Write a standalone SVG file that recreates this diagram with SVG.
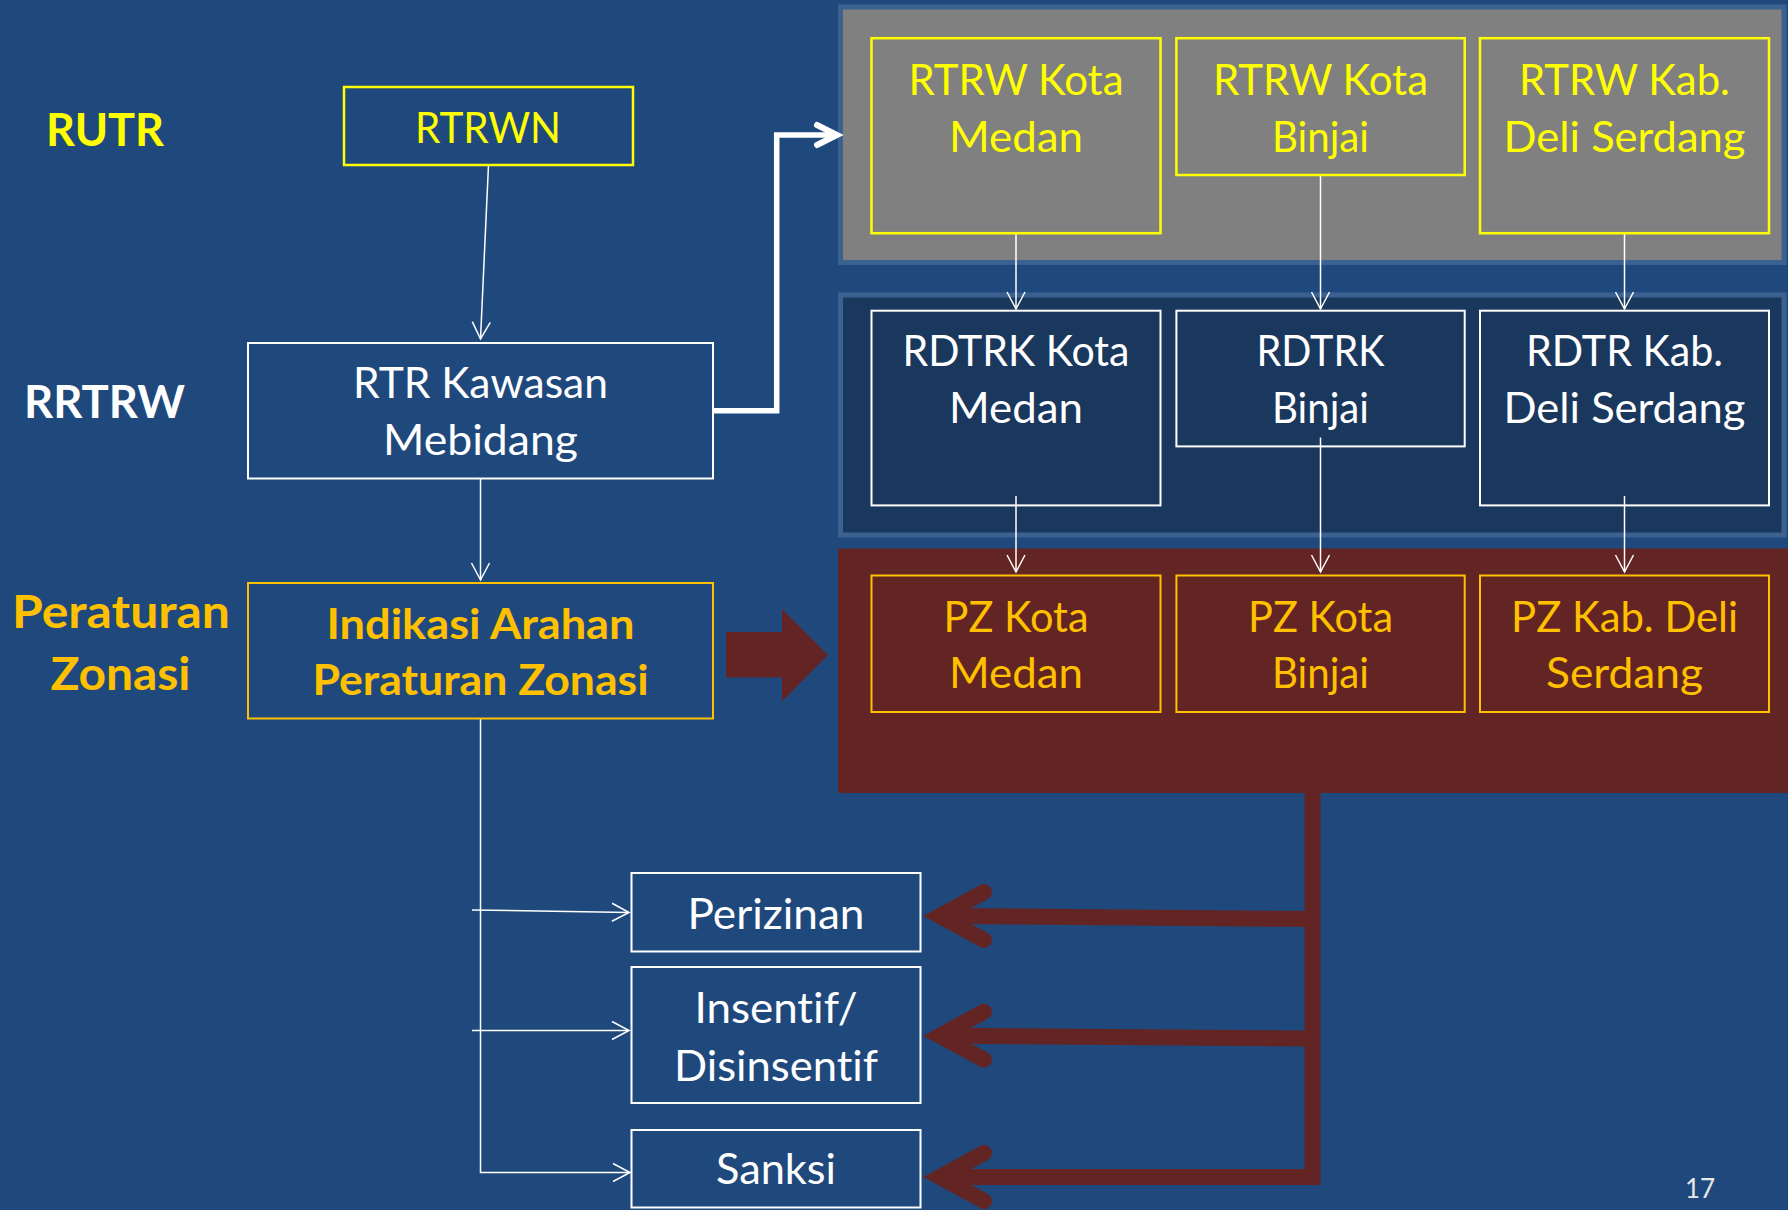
<svg xmlns="http://www.w3.org/2000/svg" width="1788" height="1210" viewBox="0 0 1788 1210">
<defs>
<style>
text{font-family:Lato,"Open Sans","Liberation Sans",sans-serif;text-anchor:middle;font-variant-ligatures:none;font-feature-settings:"liga" 0,"dlig" 0}
.t{font-size:42px}
.b{font-size:46px;font-weight:bold}
.y{fill:#FFFF00}
.o{fill:#FFC000}
.w{fill:#FFFFFF}
.thin{stroke:#FFFFFF;stroke-width:1.5;fill:none}
.box-w{fill:none;stroke:#FFFFFF;stroke-width:2}
.box-y{fill:none;stroke:#FFFF00;stroke-width:2.5}
.box-o{fill:none;stroke:#FFC000;stroke-width:2}
.red{stroke:#632523;stroke-width:16;fill:none}
.chev{stroke:#632523;stroke-width:16;fill:none;stroke-linecap:round;stroke-linejoin:miter}
</style>
<marker id="v" markerUnits="userSpaceOnUse" markerWidth="40" markerHeight="40" viewBox="-20 -20 40 40" refX="0" refY="0" orient="auto">
<path d="M-17,-9 L0,0 L-17,9" fill="none" stroke="#FFFFFF" stroke-width="1.5"/>
</marker>
</defs>
<rect width="1788" height="1210" fill="#1F497D"/>

<g id="panels">
<rect x="840.5" y="7" width="943.5" height="255.5" fill="#808080" stroke="#3B6191" stroke-width="5"/>
<rect x="840.5" y="295" width="943.5" height="240" fill="#1A375E" stroke="#3B6191" stroke-width="5"/>
<rect x="838" y="548.5" width="950" height="244.5" fill="#632523"/>
</g>

<g id="labels">
<text class="b y" x="105" y="146" textLength="118" lengthAdjust="spacingAndGlyphs">RUTR</text>
<text class="b w" x="104.5" y="418" textLength="161" lengthAdjust="spacingAndGlyphs">RRTRW</text>
<text class="b o" x="121" y="627.5" textLength="218" lengthAdjust="spacingAndGlyphs">Peraturan</text>
<text class="b o" x="120.5" y="690" textLength="140" lengthAdjust="spacingAndGlyphs">Zonasi</text>
</g>

<g id="connectors">
<line class="thin" x1="488.5" y1="165" x2="480.5" y2="339" marker-end="url(#v)"/>
<line class="thin" x1="480.5" y1="479" x2="480.5" y2="580" marker-end="url(#v)"/>
<path class="thin" d="M480.5,719 V1172.5 H630" marker-end="url(#v)"/>
<line class="thin" x1="472" y1="910" x2="629" y2="912.5" marker-end="url(#v)"/>
<line class="thin" x1="472" y1="1030.5" x2="629" y2="1030.5" marker-end="url(#v)"/>
<line class="thin" x1="1016" y1="233" x2="1016" y2="309" marker-end="url(#v)"/>
<line class="thin" x1="1320.5" y1="175" x2="1320.5" y2="309" marker-end="url(#v)"/>
<line class="thin" x1="1624.5" y1="233" x2="1624.5" y2="309" marker-end="url(#v)"/>
<line class="thin" x1="1016" y1="496" x2="1016" y2="572" marker-end="url(#v)"/>
<line class="thin" x1="1320.5" y1="437.5" x2="1320.5" y2="572" marker-end="url(#v)"/>
<line class="thin" x1="1624.5" y1="496" x2="1624.5" y2="572" marker-end="url(#v)"/>
<path d="M713,410.7 H776.7 V135 H836" fill="none" stroke="#FFFFFF" stroke-width="5.5"/>
<path d="M817,125 L837,135 L817,145" fill="none" stroke="#FFFFFF" stroke-width="6" stroke-linecap="round" stroke-linejoin="miter"/>
<polygon points="726,632 782,632 782,609 828,655 782,701.5 782,677.6 726,677.6" fill="#632523"/>
<path class="red" d="M1312.5,792 V1177 H945" stroke-linejoin="miter"/>
<line class="red" x1="1312" y1="919" x2="945" y2="916"/>
<line class="red" x1="1312" y1="1038.6" x2="945" y2="1035.7"/>
<polyline class="chev" points="984,892 940,916 984,940"/>
<polyline class="chev" points="984,1011.7 940,1035.7 984,1059.7"/>
<polyline class="chev" points="984,1153 940,1177 984,1201"/>
</g>

<g id="rtrwn">
<rect class="box-y" x="344" y="87" width="289" height="78"/>
<text class="t y" x="488" y="143" textLength="146" lengthAdjust="spacingAndGlyphs">RTRWN</text>
</g>
<g id="rtr-kawasan">
<rect class="box-w" x="248" y="343" width="465" height="135.5"/>
<text class="t w" x="480.5" y="398" textLength="255" lengthAdjust="spacingAndGlyphs">RTR Kawasan</text>
<text class="t w" x="480.5" y="455" textLength="195" lengthAdjust="spacingAndGlyphs">Mebidang</text>
</g>
<g id="indikasi">
<rect class="box-o" x="248" y="583" width="465" height="135.5"/>
<text class="t o" x="480.5" y="639" font-weight="bold" textLength="308" lengthAdjust="spacingAndGlyphs">Indikasi Arahan</text>
<text class="t o" x="480.5" y="695" font-weight="bold" textLength="336" lengthAdjust="spacingAndGlyphs">Peraturan Zonasi</text>
</g>

<g id="rtrw-medan">
<rect class="box-y" x="871.5" y="38.2" width="289" height="195"/>
<text class="t y" x="1016" y="94.6" textLength="215" lengthAdjust="spacingAndGlyphs">RTRW Kota</text>
<text class="t y" x="1016" y="151.8" textLength="134" lengthAdjust="spacingAndGlyphs">Medan</text>
</g>
<g id="rtrw-binjai">
<rect class="box-y" x="1176.4" y="38.2" width="288.3" height="136.8"/>
<text class="t y" x="1320.5" y="94.6" textLength="215" lengthAdjust="spacingAndGlyphs">RTRW Kota</text>
<text class="t y" x="1320.5" y="151.8" textLength="97" lengthAdjust="spacingAndGlyphs">Binjai</text>
</g>
<g id="rtrw-deli">
<rect class="box-y" x="1480" y="38.2" width="289" height="195"/>
<text class="t y" x="1624.5" y="94.6" textLength="211" lengthAdjust="spacingAndGlyphs">RTRW Kab.</text>
<text class="t y" x="1624.5" y="151.8" textLength="242" lengthAdjust="spacingAndGlyphs">Deli Serdang</text>
</g>

<g id="rdtrk-medan">
<rect class="box-w" x="871.5" y="310.7" width="289" height="194.7"/>
<text class="t w" x="1016" y="366" textLength="227" lengthAdjust="spacingAndGlyphs">RDTRK Kota</text>
<text class="t w" x="1016" y="423" textLength="134" lengthAdjust="spacingAndGlyphs">Medan</text>
</g>
<g id="rdtrk-binjai">
<rect class="box-w" x="1176.4" y="310.7" width="288.3" height="135.7"/>
<text class="t w" x="1320.5" y="366" textLength="128" lengthAdjust="spacingAndGlyphs">RDTRK</text>
<text class="t w" x="1320.5" y="423" textLength="97" lengthAdjust="spacingAndGlyphs">Binjai</text>
</g>
<g id="rdtr-deli">
<rect class="box-w" x="1480" y="310.7" width="289" height="194.7"/>
<text class="t w" x="1624.5" y="366" textLength="197" lengthAdjust="spacingAndGlyphs">RDTR Kab.</text>
<text class="t w" x="1624.5" y="423" textLength="242" lengthAdjust="spacingAndGlyphs">Deli Serdang</text>
</g>

<g id="pz-medan">
<rect class="box-o" x="871.5" y="575.5" width="289" height="136.5"/>
<text class="t o" x="1016" y="632" textLength="145" lengthAdjust="spacingAndGlyphs">PZ Kota</text>
<text class="t o" x="1016" y="688" textLength="134" lengthAdjust="spacingAndGlyphs">Medan</text>
</g>
<g id="pz-binjai">
<rect class="box-o" x="1176.4" y="575.5" width="288.3" height="136.5"/>
<text class="t o" x="1320.5" y="632" textLength="145" lengthAdjust="spacingAndGlyphs">PZ Kota</text>
<text class="t o" x="1320.5" y="688" textLength="97" lengthAdjust="spacingAndGlyphs">Binjai</text>
</g>
<g id="pz-deli">
<rect class="box-o" x="1480" y="575.5" width="289" height="136.5"/>
<text class="t o" x="1624.5" y="632" textLength="227" lengthAdjust="spacingAndGlyphs">PZ Kab. Deli</text>
<text class="t o" x="1624.5" y="688" textLength="157" lengthAdjust="spacingAndGlyphs">Serdang</text>
</g>

<g id="perizinan">
<rect class="box-w" x="631.5" y="873" width="289" height="78.5"/>
<text class="t w" x="776" y="929" textLength="177" lengthAdjust="spacingAndGlyphs">Perizinan</text>
</g>
<g id="insentif">
<rect class="box-w" x="631.5" y="967" width="289" height="136"/>
<text class="t w" x="776" y="1023" textLength="163" lengthAdjust="spacingAndGlyphs">Insentif/</text>
<text class="t w" x="776" y="1080.5" textLength="204" lengthAdjust="spacingAndGlyphs">Disinsentif</text>
</g>
<g id="sanksi">
<rect class="box-w" x="631.5" y="1130" width="289" height="77.5"/>
<text class="t w" x="776" y="1184" textLength="120" lengthAdjust="spacingAndGlyphs">Sanksi</text>
</g>

<text x="1700" y="1198" font-size="26" fill="#E8E8E8">17</text>
</svg>
